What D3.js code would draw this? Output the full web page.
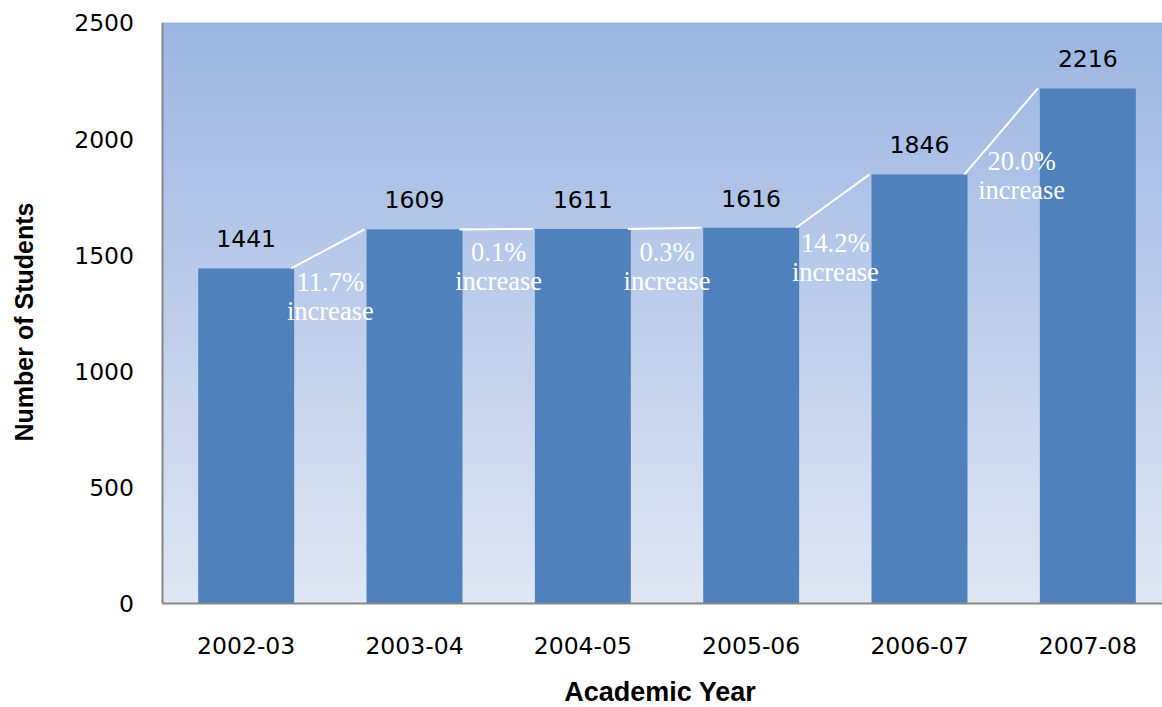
<!DOCTYPE html>
<html>
<head>
<meta charset="utf-8">
<script src="https://cdn.jsdelivr.net/npm/d3@7"></script>
<style>
  html, body { margin: 0; padding: 0; background: #ffffff; overflow: hidden; }
  svg { display: block; }
</style>
</head>
<body>
<svg id="chart" width="1162" height="707"></svg>
<script>
// ---- data ----
const categories = ["2002-03", "2003-04", "2004-05", "2005-06", "2006-07", "2007-08"];
const students = [1441, 1609, 1611, 1616, 1846, 2216];
const yTicks = [0, 500, 1000, 1500, 2000, 2500];
const increaseLabels = ["11.7%", "0.1%", "0.3%", "14.2%", "20.0%"];
const increaseWord = "increase";
const yTitle = "Number of Students";
const xTitle = "Academic Year";

// ---- layout (annotation placement offsets: [dx from gap centre, dy from previous bar top]) ----
const annotOffsets = [[0, 23], [0, 32], [0, 32], [0, 24], [18, -4]];

const svg = d3.select("#chart");
const plot = { left: 162, right: 1172, top: 22.5, bottom: 603 };

const x = d3.scaleBand().domain(categories).range([plot.left, plot.right])
  .paddingInner(0.43).paddingOuter(0.215);
const y = d3.scaleLinear().domain([0, 2500]).range([plot.bottom, plot.top]);

// background gradient
const defs = svg.append("defs");
const grad = defs.append("linearGradient").attr("id", "bg").attr("x1", 0).attr("y1", 0).attr("x2", 0).attr("y2", 1);
grad.append("stop").attr("offset", "0%").attr("stop-color", "#9bb5e2");
grad.append("stop").attr("offset", "100%").attr("stop-color", "#dfe6f3");

svg.append("rect")
  .attr("x", plot.left).attr("y", plot.top)
  .attr("width", plot.right - plot.left).attr("height", plot.bottom - plot.top)
  .attr("fill", "url(#bg)");

// bars
svg.append("g").selectAll("rect").data(students).join("rect")
  .attr("x", (d, i) => x(categories[i]))
  .attr("y", d => y(d))
  .attr("width", x.bandwidth())
  .attr("height", d => y(0) - y(d))
  .attr("fill", "#4f81bd");

// axes
const yAxis = d3.axisLeft(y).tickValues(yTicks).tickFormat(d3.format("d")).tickSize(0).tickPadding(28);
const gy = svg.append("g").attr("transform", `translate(${plot.left},0)`).call(yAxis);
gy.select(".domain").attr("stroke", "#868686").attr("stroke-width", 2);
gy.selectAll("text").attr("font-family", "DejaVu Sans").attr("font-size", 23.5)
  .attr("fill", "#000").attr("dy", "0.36em");

const xAxis = d3.axisBottom(x).tickSize(0).tickPadding(34);
const gx = svg.append("g").attr("transform", `translate(0,${plot.bottom})`).call(xAxis);
gx.select(".domain").attr("stroke", "#868686").attr("stroke-width", 2);
gx.selectAll("text").attr("font-family", "DejaVu Sans").attr("font-size", 23.5)
  .attr("fill", "#000").attr("dy", "0.71em");

// connector lines
const conn = svg.append("g");
students.slice(0, -1).forEach((v, i) => {
  const next = students[i + 1];
  conn.append("line")
    .attr("x1", x(categories[i]) + x.bandwidth() - 3)
    .attr("y1", y(v))
    .attr("x2", x(categories[i + 1]) - 2)
    .attr("y2", y(next))
    .attr("stroke", "#ffffff").attr("stroke-width", 2);
});

// value labels
svg.append("g").selectAll("text").data(students).join("text")
  .attr("x", (d, i) => x(categories[i]) + x.bandwidth() / 2)
  .attr("y", d => y(d) - 21)
  .attr("text-anchor", "middle")
  .attr("font-family", "DejaVu Sans").attr("font-size", 23.5).attr("fill", "#000")
  .text(d => d);

// increase annotations
const ann = svg.append("g").attr("font-family", "Liberation Serif").attr("font-size", 26.5)
  .attr("fill", "#ffffff").attr("text-anchor", "middle");
increaseLabels.forEach((lab, i) => {
  const gapCenter = (x(categories[i]) + x.bandwidth() + x(categories[i + 1])) / 2 + annotOffsets[i][0];
  const baseY = y(students[i]) + annotOffsets[i][1];
  const t = ann.append("text").attr("x", gapCenter).attr("y", baseY);
  t.append("tspan").attr("x", gapCenter).text(lab);
  t.append("tspan").attr("x", gapCenter).attr("dy", 29).text(increaseWord);
});

// axis titles
svg.append("text")
  .attr("transform", `translate(33,${322}) rotate(-90)`)
  .attr("text-anchor", "middle")
  .attr("font-family", "Liberation Sans").attr("font-weight", "bold").attr("font-size", 25)
  .attr("fill", "#000").text(yTitle);

svg.append("text")
  .attr("x", 660).attr("y", 701)
  .attr("text-anchor", "middle")
  .attr("font-family", "Liberation Sans").attr("font-weight", "bold").attr("font-size", 27)
  .attr("fill", "#000").text(xTitle);
</script>
</body>
</html>
